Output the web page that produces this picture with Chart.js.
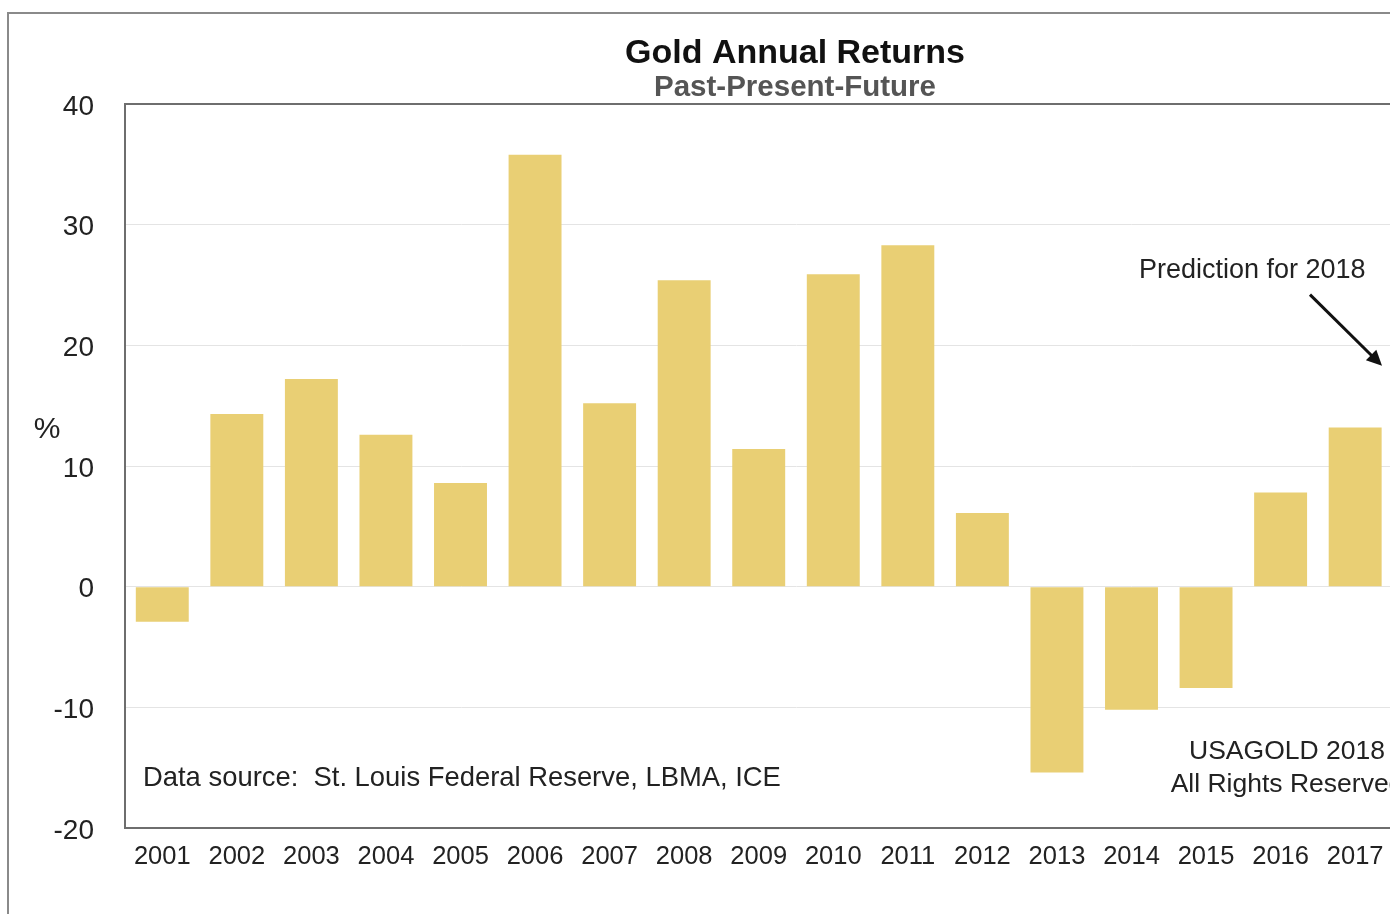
<!DOCTYPE html>
<html>
<head>
<meta charset="utf-8">
<script src="https://cdn.jsdelivr.net/npm/chart.js@4/dist/chart.umd.min.js"></script>
<style>
  html, body { margin: 0; padding: 0; background: #fff; overflow: hidden; width: 1390px; height: 914px; }
  #wrap { position: absolute; left: 0; top: 0; width: 1590px; height: 960px; }
</style>
</head>
<body>
<div id="wrap"><canvas id="c" width="1590" height="960"></canvas></div>
<script>
const years = ['2001','2002','2003','2004','2005','2006','2007','2008','2009','2010','2011','2012','2013','2014','2015','2016','2017','2018'];
const returns = [-2.9, 14.3, 17.2, 12.6, 8.6, 35.8, 15.2, 25.4, 11.4, 25.9, 28.3, 6.1, -15.4, -10.2, -8.4, 7.8, 13.2, null];
const yTicks = [-20, -10, 0, 10, 20, 30, 40];
const titleText = 'Gold Annual Returns';
const subtitleText = 'Past-Present-Future';
const sourceText = 'Data source:  St. Louis Federal Reserve, LBMA, ICE';
const copyrightLines = ['USAGOLD 2018', 'All Rights Reserved'];
const predictionText = 'Prediction for 2018';

const FONT = '"Liberation Sans", Arial, Helvetica, sans-serif';

const decor = {
  id: 'decor',
  beforeDraw(chart) {
    const ctx = chart.ctx;
    ctx.save();
    ctx.strokeStyle = '#8a8a8a';
    ctx.lineWidth = 2;
    ctx.strokeRect(8, 13, 3000, 3000);
    ctx.restore();
  },
  afterDraw(chart) {
    const ctx = chart.ctx;
    const a = chart.chartArea;
    const y = chart.scales.y;
    ctx.save();
    // % axis label
    ctx.fillStyle = '#222';
    ctx.font = '30px ' + FONT;
    ctx.textAlign = 'center';
    ctx.textBaseline = 'middle';
    ctx.fillText('%', 47, y.getPixelForValue(13.0));
    // data source
    ctx.font = '27.4px ' + FONT;
    ctx.textAlign = 'left';
    ctx.fillText(sourceText, a.left + 18, y.getPixelForValue(-15.9));
    // copyright
    ctx.font = '26.5px ' + FONT;
    ctx.textAlign = 'center';
    ctx.fillText(copyrightLines[0], 1287, y.getPixelForValue(-13.7));
    ctx.fillText(copyrightLines[1], 1287, y.getPixelForValue(-16.45));
    // prediction
    ctx.textAlign = 'left';
    ctx.font = '27px ' + FONT;
    ctx.fillText(predictionText, 1139, y.getPixelForValue(26.2));
    // arrow
    const x0 = 1310, y0 = y.getPixelForValue(24.2);
    const x1 = 1382, y1 = y.getPixelForValue(18.3);
    ctx.strokeStyle = '#111';
    ctx.fillStyle = '#111';
    ctx.lineWidth = 3;
    const ang = Math.atan2(y1 - y0, x1 - x0);
    const hl = 17;
    ctx.beginPath();
    ctx.moveTo(x0, y0);
    ctx.lineTo(x1 - hl * 0.8 * Math.cos(ang), y1 - hl * 0.8 * Math.sin(ang));
    ctx.stroke();
    ctx.beginPath();
    ctx.moveTo(x1, y1);
    ctx.lineTo(x1 - hl * Math.cos(ang - 0.45), y1 - hl * Math.sin(ang - 0.45));
    ctx.lineTo(x1 - hl * Math.cos(ang + 0.45), y1 - hl * Math.sin(ang + 0.45));
    ctx.closePath();
    ctx.fill();
    ctx.restore();
  }
};

new Chart(document.getElementById('c'), {
  type: 'bar',
  data: {
    labels: years,
    datasets: [{
      data: returns,
      backgroundColor: '#E9CF74',
      borderWidth: 0,
      barPercentage: 0.71,
      categoryPercentage: 1.0
    }]
  },
  options: {
    responsive: false,
    animation: false,
    devicePixelRatio: 1,
    layout: { padding: { left: 0, right: 0, top: 0, bottom: 32 } },
    plugins: {
      legend: { display: false },
      tooltip: { enabled: false },
      title: {
        display: true,
        text: titleText,
        color: '#111',
        font: { family: FONT, size: 34, weight: 'bold', lineHeight: 1 },
        padding: { top: 37, bottom: 0 }
      },
      subtitle: {
        display: true,
        text: subtitleText,
        color: '#555',
        font: { family: FONT, size: 29.5, weight: 'bold', lineHeight: 1 },
        padding: { top: 2.5, bottom: 1 }
      }
    },
    scales: {
      x: {
        grid: { display: false, drawTicks: false },
        border: { display: true, color: '#6e6e6e', width: 2 },
        ticks: { color: '#222', font: { family: FONT, size: 25.5 }, padding: 14, maxRotation: 0, autoSkip: false },
        afterFit(s) { s.height = 100; }
      },
      y: {
        min: -20, max: 40,
        afterBuildTicks(s) { s.ticks = yTicks.map(v => ({ value: v })); },
        grid: {
          drawTicks: false,
          color: (c) => c.tick && c.tick.value === 40 ? '#6e6e6e' : '#e4e4e4',
          lineWidth: (c) => c.tick && c.tick.value === 40 ? 2 : 1
        },
        border: { display: true, color: '#6e6e6e', width: 2 },
        ticks: { color: '#222', font: { family: FONT, size: 28 }, padding: 31, labelOffset: 3 },
        afterFit(s) { s.width = 125; }
      },
      yRight: {
        position: 'right',
        min: -20, max: 40,
        grid: { display: false, drawTicks: false },
        border: { display: false },
        ticks: { display: false },
        afterFit(s) { s.width = 123; }
      }
    }
  },
  plugins: [decor]
});
</script>
</body>
</html>
